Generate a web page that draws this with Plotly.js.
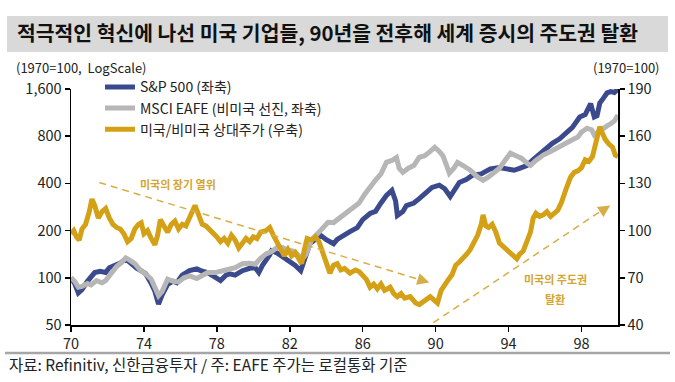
<!DOCTYPE html>
<html>
<head>
<meta charset="utf-8">
<script src="https://cdn.plot.ly/plotly-3.0.1.min.js"></script>
<style>html,body{margin:0;padding:0;background:#fff}#chart{width:675px;height:382px}</style>
</head>
<body>
<div id="chart"></div>
<script>
// ---- data (1970 = 100) ----
const spxYears = [70.0,70.2,70.4,70.6,70.9,71.1,71.3,71.6,71.9,72.1,72.4,72.7,73.0,73.3,73.6,73.9,74.1,74.4,74.6,74.8,75.0,75.3,75.6,75.8,76.1,76.5,76.9,77.2,77.5,77.9,78.2,78.5,78.7,79.0,79.4,79.8,80.1,80.3,80.5,80.9,81.0,81.3,81.6,81.9,82.3,82.6,82.8,83.1,83.5,83.7,84.0,84.4,84.6,84.9,85.3,85.7,86.0,86.4,86.7,87.0,87.3,87.6,87.8,87.9,88.2,88.4,88.8,89.1,89.5,89.8,90.2,90.5,90.8,91.0,91.3,91.7,92.0,92.5,93.0,93.5,94.0,94.3,94.6,95.0,95.3,95.6,96.0,96.4,96.8,97.2,97.5,97.9,98.2,98.5,98.7,98.85,99.0,99.2,99.4,99.6,99.8,100.0];
const spxValues = [100,92,80,84,95,103,108,110,108,116,120,124,132,122,115,110,106,92,82,68,78,91,95,93,104,111,114,110,108,101,96,104,106,104,111,115,116,108,120,140,149,144,137,128,120,111,132,165,180,186,175,165,176,186,197,209,235,257,265,300,335,361,310,250,265,289,300,320,355,377,390,370,330,360,406,425,450,460,495,505,495,485,499,520,560,600,660,720,770,836,910,1060,1100,1290,1060,1080,1300,1400,1510,1540,1520,1600];

const eafeYears = [70.0,70.2,70.4,70.6,70.9,71.1,71.4,71.7,71.9,72.2,72.5,72.8,73.0,73.2,73.5,73.8,74.1,74.4,74.6,74.8,75.0,75.3,75.6,75.9,76.2,76.5,76.9,77.2,77.5,77.9,78.2,78.6,79.0,79.4,79.8,80.1,80.4,80.7,81.0,81.3,81.6,81.9,82.2,82.5,82.7,82.9,83.2,83.5,83.8,84.1,84.4,84.7,85.0,85.4,85.8,86.1,86.4,86.7,87.0,87.3,87.6,87.85,88.0,88.2,88.5,88.8,89.1,89.4,89.7,89.95,90.2,90.4,90.6,90.75,91.0,91.2,91.5,91.9,92.3,92.6,92.9,93.2,93.5,93.8,94.1,94.4,94.7,95.0,95.2,95.5,95.9,96.3,96.8,97.2,97.5,97.8,98.0,98.3,98.55,98.7,98.9,99.2,99.4,99.6,99.8,100.0];
const eafeValues = [100,95,87,88,92,90,96,93,96,108,118,126,134,130,123,112,106,98,86,77,82,98,95,94,100,103,99,104,108,108,111,113,116,123,124,122,133,142,147,156,156,150,148,140,132,142,175,190,209,226,225,240,258,275,300,340,380,420,460,545,560,585,500,470,500,520,587,600,640,680,640,600,520,464,500,545,520,485,440,418,440,470,500,560,623,600,580,540,521,560,606,640,690,740,760,790,850,900,880,814,850,900,930,960,1000,1090];

const relYears = [70.0,70.15,70.3,70.45,70.6,70.8,71.0,71.15,71.3,71.5,71.7,71.9,72.1,72.3,72.5,72.7,72.9,73.1,73.3,73.5,73.7,73.85,74.0,74.2,74.4,74.6,74.75,74.9,75.1,75.3,75.5,75.7,75.9,76.1,76.3,76.5,76.7,76.8,77.0,77.2,77.4,77.6,77.8,78.0,78.2,78.4,78.6,78.8,79.0,79.2,79.4,79.6,79.8,80.0,80.2,80.4,80.7,80.9,81.1,81.3,81.5,81.7,81.9,82.1,82.3,82.5,82.65,82.8,82.95,83.2,83.4,83.6,83.8,84.0,84.2,84.4,84.6,84.8,85.0,85.3,85.6,85.8,86.0,86.2,86.4,86.6,86.8,87.0,87.2,87.5,87.7,87.9,88.1,88.3,88.6,88.9,89.1,89.3,89.5,89.7,89.9,90.1,90.3,90.5,90.7,90.9,91.1,91.3,91.5,91.7,91.9,92.1,92.3,92.5,92.6,92.75,92.9,93.1,93.3,93.5,93.7,93.9,94.1,94.3,94.45,94.6,94.8,95.0,95.2,95.35,95.5,95.7,95.9,96.1,96.3,96.5,96.7,96.9,97.0,97.2,97.4,97.6,97.8,98.0,98.2,98.4,98.6,98.8,99.0,99.1,99.3,99.5,99.7,99.85,100.0];
const relValues = [98,100,96,94,101,104,112,120,116,108,112,114,108,104,102,101,98,93,95,101,104,105,98,100,95,91,97,107,103,99,104,106,101,104,103,108,113,116,110,104,103,101,99,96,93,95,92,97,94,89,92,95,93,96,95,99,100,102,97,93,88,84,88,84,86,81,79,88,95,94,96,93,87,80,73,78,79,75,76,73,75,74,72,69,64,66,63,66,62,64,60,58,60,57,58,54,53,55,57,58,56,54,62,66,69,72,78,80,82,85,88,92,97,104,110,103,102,104,99,92,90,88,86,83,82,85,87,93,99,108,111,109,110,112,109,111,113,118,122,128,134,137,138,140,145,144,147,158,166,163,158,155,153,148,147];

const seriesNames = ['S&P 500 (좌축)', 'MSCI EAFE (비미국 선진, 좌축)', '미국/비미국 상대주가 (우축)'];
const xTicks = [70,74,78,82,86,90,94,98];
const yLeftTicks = [50,100,200,400,800,1600];
const yLeftLabels = ['50','100','200','400','800','1,600'];
const yRightTicks = [40,70,100,130,160,190];

const FONT = 'Noto Sans CJK KR, Noto Sans, sans-serif';
const BLUE = '#3b4a8c', GRAY = '#b6b6b6', GOLD = '#d4a116', DASH = '#d8ad45';

const traces = [
  {x: spxYears, y: spxValues, name: seriesNames[0], type: 'scatter', mode: 'lines',
   line: {color: BLUE, width: 5}, yaxis: 'y'},
  {x: eafeYears, y: eafeValues, name: seriesNames[1], type: 'scatter', mode: 'lines',
   line: {color: GRAY, width: 5}, yaxis: 'y'},
  {x: relYears, y: relValues, name: seriesNames[2], type: 'scatter', mode: 'lines',
   line: {color: GOLD, width: 5}, yaxis: 'y2'}
];

const tickFont = {family: FONT, size: 14.5, color: '#222'};

const layout = {
  width: 675, height: 382,
  margin: {l: 71, r: 57, t: 89, b: 57},
  paper_bgcolor: '#fff', plot_bgcolor: '#fff',
  font: {family: FONT, color: '#222'},
  title: {
    text: '<b>적극적인 혁신에 나선 미국 기업들, 90년을 전후해 세계 증시의 주도권 탈환</b>',
    font: {family: FONT, size: 20.4, color: '#111'},
    x: 17/675, xanchor: 'left', xref: 'container',
    y: 1 - 34/382, yanchor: 'middle', yref: 'container'
  },
  showlegend: true,
  legend: {
    x: 0.053, y: 1.075, xanchor: 'left', yanchor: 'top',
    bgcolor: 'rgba(0,0,0,0)', font: {family: FONT, size: 14, color: '#222'},
    tracegroupgap: 0
  },
  xaxis: {
    range: [70, 100], tickvals: xTicks, ticktext: xTicks.map(String),
    showline: true, linecolor: '#000', linewidth: 1.5,
    ticks: 'outside', ticklen: 5, tickwidth: 1.5, tickcolor: '#000',
    showgrid: false, zeroline: false, tickfont: tickFont
  },
  yaxis: {
    type: 'log', range: [Math.log10(50), Math.log10(1600)],
    tickvals: yLeftTicks, ticktext: yLeftLabels,
    showline: true, linecolor: '#000', linewidth: 1.5,
    ticks: 'outside', ticklen: 5, tickwidth: 1.5, tickcolor: '#000',
    showgrid: false, zeroline: false, tickfont: tickFont
  },
  yaxis2: {
    overlaying: 'y', side: 'right', range: [40, 190],
    tickvals: yRightTicks, ticktext: yRightTicks.map(String),
    showline: true, linecolor: '#000', linewidth: 1.5,
    ticks: 'outside', ticklen: 5, tickwidth: 1.5, tickcolor: '#000',
    showgrid: false, zeroline: false, tickfont: tickFont
  },
  shapes: [
    {type: 'rect', xref: 'paper', yref: 'paper', x0: -0.117, x1: 1.0914, y0: 1.157, y1: 1.309,
     fillcolor: '#d9d9d9', line: {width: 0}, layer: 'below'},
    {type: 'line', xref: 'paper', yref: 'paper', x0: -0.1207, x1: 1.0951, y0: -0.1186, y1: -0.1186,
     line: {color: '#a6a6a6', width: 2.5}},
    {type: 'line', xref: 'x', yref: 'y2', x0: 71.55, y0: 130.6, x1: 89.3, y1: 68.2,
     line: {color: DASH, width: 1.5, dash: '7px,5px'}},
    {type: 'line', xref: 'x', yref: 'y2', x0: 89.87, y0: 41.5, x1: 99.2, y1: 113.5,
     line: {color: DASH, width: 1.5, dash: '7px,5px'}}
  ],
  annotations: [
    {xref: 'paper', yref: 'paper', x: -0.104, y: 1.092, xanchor: 'left', yanchor: 'middle',
     text: '(1970=100,  LogScale)', showarrow: false, font: {family: FONT, size: 13, color: '#222'}},
    {xref: 'paper', yref: 'paper', x: 1.0804, y: 1.092, xanchor: 'right', yanchor: 'middle',
     text: '(1970=100)', showarrow: false, font: {family: FONT, size: 13, color: '#222'}},
    {xref: 'paper', yref: 'paper', x: -0.117, y: -0.165, xanchor: 'left', yanchor: 'middle',
     text: '자료: Refinitiv, 신한금융투자 / 주: EAFE 주가는 로컬통화 기준', showarrow: false,
     font: {family: FONT, size: 15.5, color: '#222'}},
    {xref: 'x', yref: 'y2', x: 75.87, y: 129.4, text: '<b>미국의 장기 열위</b>', showarrow: false,
     font: {family: FONT, size: 11, color: '#d4a530'}},
    {xref: 'x', yref: 'y2', x: 96.55, y: 69.4, text: '<b>미국의 주도권</b>', showarrow: false,
     font: {family: FONT, size: 11, color: '#d4a530'}},
    {xref: 'x', yref: 'y2', x: 96.55, y: 56.6, text: '<b>탈환</b>', showarrow: false,
     font: {family: FONT, size: 11, color: '#d4a530'}},
    {xref: 'x', yref: 'y2', x: 89.65, y: 67.0, text: '', showarrow: true, ax: -12, ay: -3.7,
     arrowhead: 2, arrowsize: 1.6, arrowwidth: 1.5, arrowcolor: DASH, standoff: 0},
    {xref: 'x', yref: 'y2', x: 99.57, y: 116, text: '', showarrow: true, ax: -10, ay: 6.6,
     arrowhead: 2, arrowsize: 1.6, arrowwidth: 1.5, arrowcolor: DASH, standoff: 0}
  ]
};

Plotly.newPlot('chart', traces, layout, {displayModeBar: false, staticPlot: true});
</script>
</body>
</html>
